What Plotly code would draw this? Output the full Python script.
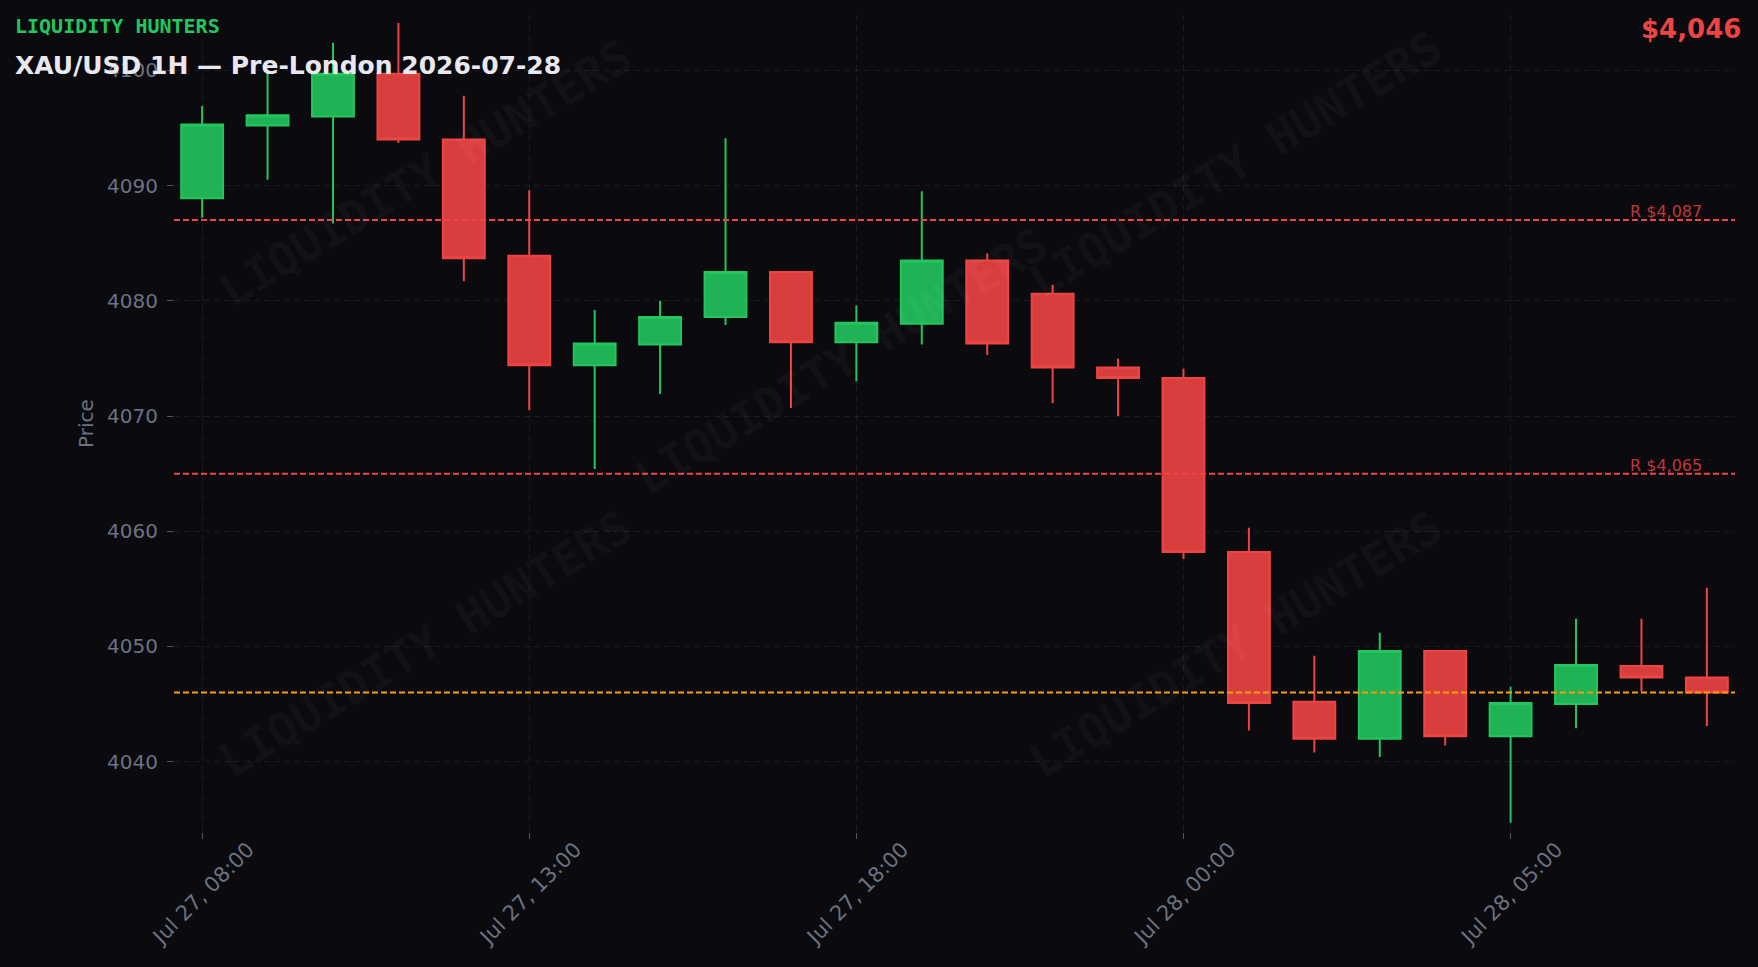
import plotly.graph_objects as go

# ---- data ----
times = [
    "2026-07-27 08:00", "2026-07-27 09:00", "2026-07-27 10:00", "2026-07-27 11:00",
    "2026-07-27 12:00", "2026-07-27 13:00", "2026-07-27 14:00", "2026-07-27 15:00",
    "2026-07-27 16:00", "2026-07-27 17:00", "2026-07-27 18:00", "2026-07-27 19:00",
    "2026-07-27 20:00", "2026-07-27 21:00", "2026-07-27 22:00", "2026-07-28 00:00",
    "2026-07-28 01:00", "2026-07-28 02:00", "2026-07-28 03:00", "2026-07-28 04:00",
    "2026-07-28 05:00", "2026-07-28 06:00", "2026-07-28 07:00", "2026-07-28 08:00",
]
opens = [4088.9, 4095.2, 4096.0, 4099.7, 4094.0, 4083.9, 4074.4, 4076.2, 4078.6, 4082.5,
         4076.4, 4078.0, 4083.5, 4080.6, 4074.2, 4073.3, 4058.2, 4045.2, 4042.0, 4049.6,
         4042.2, 4045.0, 4048.3, 4047.3]
highs = [4096.9, 4100.0, 4102.4, 4104.1, 4097.8, 4089.6, 4079.2, 4080.0, 4094.1, 4082.5,
         4079.6, 4089.5, 4084.1, 4081.4, 4075.0, 4074.1, 4060.3, 4049.2, 4051.2, 4049.6,
         4046.5, 4052.4, 4052.4, 4055.1]
lows = [4087.2, 4090.5, 4086.7, 4093.7, 4081.7, 4070.5, 4065.4, 4071.9, 4077.9, 4070.7,
        4073.0, 4076.2, 4075.3, 4071.1, 4070.0, 4057.6, 4042.7, 4040.8, 4040.4, 4041.4,
        4034.7, 4042.9, 4046.1, 4043.1]
closes = [4095.3, 4096.1, 4099.7, 4094.0, 4083.7, 4074.4, 4076.3, 4078.6, 4082.5, 4076.4,
          4078.1, 4083.5, 4076.3, 4074.2, 4073.3, 4058.2, 4045.1, 4042.0, 4049.6, 4042.2,
          4045.1, 4048.4, 4047.3, 4046.0]

resistance_levels = [4087, 4065]
current_price = 4046

tick_vals = ["2026-07-27 08:00", "2026-07-27 13:00", "2026-07-27 18:00",
             "2026-07-28 00:00", "2026-07-28 05:00"]
tick_text = ["Jul 27, 08:00", "Jul 27, 13:00", "Jul 27, 18:00",
             "Jul 28, 00:00", "Jul 28, 05:00"]
y_tick_vals = [4040, 4050, 4060, 4070, 4080, 4090, 4100]

brand = "LIQUIDITY HUNTERS"
subtitle = "XAU/USD 1H — Pre-London 2026-07-28"

# ---- style ----
BG = "#0a0a0f"
GREEN = "#22c55e"
RED = "#ef4444"
ORANGE = "#f59e0b"
GRAY = "#6b7280"
GRID = "rgba(255,255,255,0.07)"

fig = go.Figure()
fig.add_trace(go.Candlestick(
    x=times, open=opens, high=highs, low=lows, close=closes,
    increasing=dict(line=dict(color=GREEN, width=2), fillcolor="rgba(34,197,94,0.9)"),
    decreasing=dict(line=dict(color=RED, width=2), fillcolor="rgba(239,68,68,0.9)"),
    showlegend=False,
))

for lvl in resistance_levels:
    fig.add_hline(y=lvl, line=dict(color=RED, width=2, dash="6px,3px"))
    fig.add_annotation(x=0.98, xref="paper", y=lvl, yref="y", text=f"R ${lvl:,}",
                       showarrow=False, xanchor="right", yanchor="bottom", yshift=-3,
                       font=dict(family="DejaVu Sans", size=16, color="rgba(239,68,68,0.8)"))
fig.add_hline(y=current_price, line=dict(color=ORANGE, width=2, dash="6px,3px"))

# watermarks
wm_pos = [(0.1614, 0.8066), (0.6803, 0.8176), (0.4273, 0.5765), (0.1608, 0.2301), (0.6803, 0.2301)]
for wx, wy in wm_pos:
    fig.add_annotation(x=wx, y=wy, xref="paper", yref="paper", text=f"<b>{brand}</b>",
                       showarrow=False, textangle=-31, xanchor="center", yanchor="middle",
                       font=dict(family="DejaVu Sans Mono", size=46, color="rgba(255,255,255,0.045)"))

fig.add_annotation(x=-0.1032, y=0.9865, xref="paper", yref="paper", text=f"<b>{brand}</b>",
                   showarrow=False, xanchor="left", yanchor="middle", bgcolor=BG,
                   font=dict(family="DejaVu Sans Mono", size=20, color=GREEN))
fig.add_annotation(x=-0.1032, y=0.9380, xref="paper", yref="paper", text=f"<b>{subtitle}</b>",
                   showarrow=False, xanchor="left", yanchor="middle",
                   font=dict(family="DejaVu Sans", size=25, color="#e8e8ee"))
fig.add_annotation(x=1.0053, y=0.9829, xref="paper", yref="paper", text=f"<b>${current_price:,}</b>",
                   showarrow=False, xanchor="right", yanchor="middle",
                   font=dict(family="DejaVu Sans", size=26, color=RED))

fig.update_layout(
    width=1758, height=967,
    paper_bgcolor=BG, plot_bgcolor=BG,
    margin=dict(l=174, r=23, t=15, b=135),
    font=dict(family="DejaVu Sans", color=GRAY, size=20),
    boxgap=0.2, boxgroupgap=0.2,
    xaxis=dict(
        type="date",
        rangeslider=dict(visible=False),
        rangebreaks=[dict(values=["2026-07-27 23:00"], dvalue=3600000)],
        range=["2026-07-27 07:34:12", "2026-07-28 08:25:48"],
        tickvals=tick_vals, ticktext=tick_text, tickangle=-45,
        ticklabelshift=46, ticklabelstandoff=-10,
        showgrid=True, gridcolor=GRID, griddash="6px,4px", gridwidth=1,
        ticks="outside", ticklen=6, tickcolor="#4b5563",
        tickfont=dict(size=21, color=GRAY),
        zeroline=False, showline=False,
    ),
    yaxis=dict(
        range=[4033.9, 4104.8],
        tickvals=y_tick_vals,
        showgrid=True, gridcolor=GRID, griddash="6px,4px", gridwidth=1,
        ticks="outside", ticklen=6, tickcolor="#4b5563",
        ticklabelstandoff=5,
        tickfont=dict(size=20, color=GRAY),
        title=dict(text="Price", font=dict(size=20, color=GRAY), standoff=8),
        zeroline=False, showline=False,
    ),
)

fig.write_html(
    "out.html",
    config={"displayModeBar": False},
    post_script="document.body.style.margin='0';document.body.style.background='#0a0a0f';",
)
